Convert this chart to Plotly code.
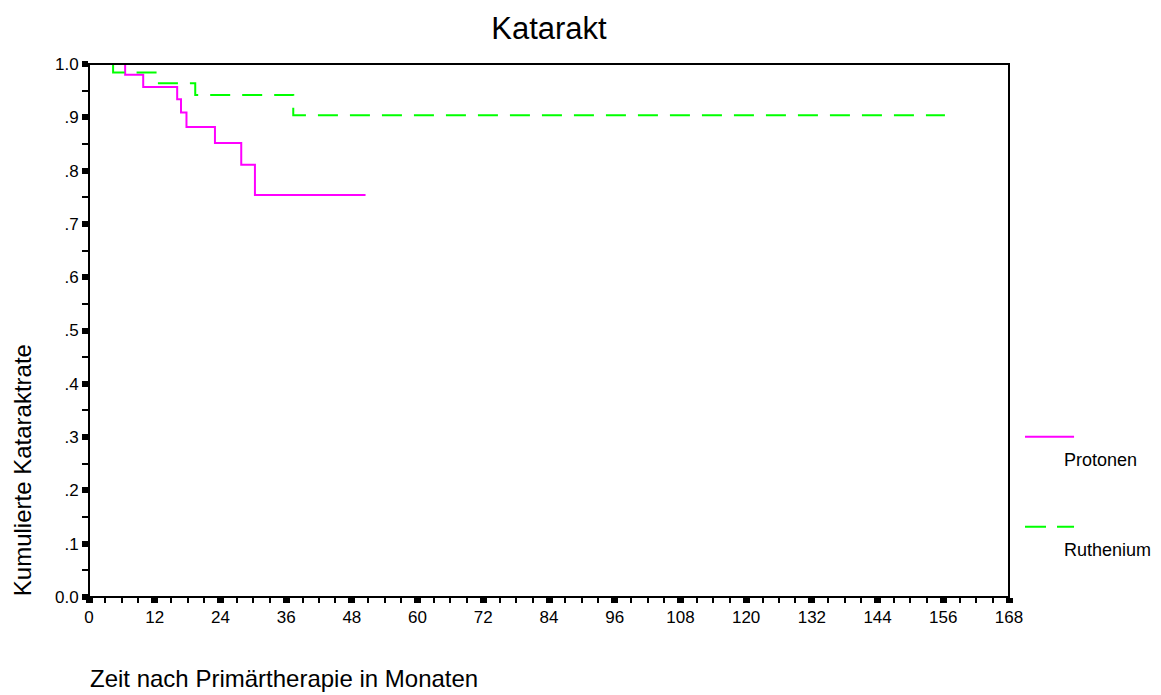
import plotly.graph_objects as go

# Kaplan-Meier style step data (months, cumulative proportion without cataract)
protonen_months = [0, 6.6, 9.9, 16.1, 16.8, 17.8, 23.0, 27.8, 30.3, 50.5]
protonen_rate = [1.0, 0.980, 0.957, 0.934, 0.909, 0.882, 0.852, 0.811, 0.754, 0.754]

ruthenium_months = [4.4, 4.4, 12.5, 19.4, 37.3, 156.3]
ruthenium_rate = [1.0, 0.984, 0.964, 0.942, 0.904, 0.904]

series_names = ["Protonen", "Ruthenium"]
series_colors = ["#FF00FF", "#00FF00"]

x_ticks = list(range(0, 169, 12))
y_ticks = [i / 10 for i in range(11)]
y_tick_labels = ["0.0", ".1", ".2", ".3", ".4", ".5", ".6", ".7", ".8", ".9", "1.0"]

FONT = "Liberation Sans, Arial, sans-serif"

fig = go.Figure()
fig.add_trace(go.Scatter(
    x=protonen_months, y=protonen_rate, mode="lines", line_shape="hv",
    line=dict(color=series_colors[0], width=2), name=series_names[0],
    showlegend=False,
))
fig.add_trace(go.Scatter(
    x=ruthenium_months, y=ruthenium_rate, mode="lines", line_shape="hv",
    line=dict(color=series_colors[1], width=2, dash="20px,12px"), name=series_names[1],
    showlegend=False,
))

fig.update_xaxes(
    range=[0, 168], tickvals=x_ticks, ticktext=[str(v) for v in x_ticks],
    showline=False, ticks="outside", ticklen=5, tickwidth=7, tickcolor="black",
    minor=dict(dtick=3, tick0=0, ticks="outside", ticklen=5, tickwidth=1.5, tickcolor="black"),
    showgrid=False, zeroline=False,
    tickfont=dict(family=FONT, size=17, color="black"),
)
fig.update_yaxes(
    range=[0, 1.0], tickvals=y_ticks, ticktext=y_tick_labels,
    showline=False, ticks="outside", ticklen=6, tickwidth=6, tickcolor="black",
    minor=dict(dtick=0.05, tick0=0, ticks="outside", ticklen=6, tickwidth=1.5, tickcolor="black"),
    showgrid=False, zeroline=False,
    tickfont=dict(family=FONT, size=17, color="black"),
)

# plot frame drawn on top of the curves
fig.add_shape(type="rect", xref="paper", yref="paper", x0=0, x1=1, y0=0, y1=1,
              line=dict(color="black", width=2), layer="above")

# hand-built legend: line sample above each series label
legend_x0, legend_x1 = 1.0174, 1.0707
legend_line_y = [0.3008, 0.1319]
legend_text_y = [0.257, 0.0882]
dashes = ["solid", "21px,11px"]
for name, color, ly, ty, dash in zip(series_names, series_colors, legend_line_y, legend_text_y, dashes):
    fig.add_shape(type="line", xref="paper", yref="paper",
                  x0=legend_x0, x1=legend_x1, y0=ly, y1=ly,
                  line=dict(color=color, width=2, dash=dash))
    fig.add_annotation(xref="paper", yref="paper", x=1.0576, y=ty,
                       xanchor="left", yanchor="middle", showarrow=False,
                       text=name, font=dict(family=FONT, size=18, color="black"))

fig.add_annotation(xref="paper", yref="paper", x=-0.001, y=-0.152,
                   xanchor="left", yanchor="middle", showarrow=False,
                   text="Zeit nach Primärtherapie in Monaten",
                   font=dict(family=FONT, size=24, color="black"))
fig.add_annotation(xref="paper", yref="paper", x=-0.0728, y=0.238,
                   xanchor="center", yanchor="middle", showarrow=False, textangle=-90,
                   text="Kumulierte Kataraktrate",
                   font=dict(family=FONT, size=24, color="black"))

fig.update_layout(
    width=1161, height=695,
    margin=dict(l=89, r=152, t=64, b=98),
    paper_bgcolor="white", plot_bgcolor="white",
    title=dict(text="Katarakt", x=0.5, xref="paper", y=1 - 28 / 695, yanchor="middle",
               font=dict(family=FONT, size=31, color="black")),
)

fig.write_html("out.html")
